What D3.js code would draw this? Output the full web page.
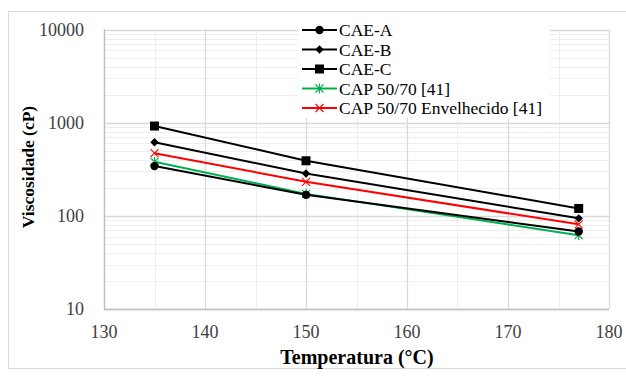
<!DOCTYPE html>
<html>
<head>
<meta charset="utf-8">
<script src="https://cdn.jsdelivr.net/npm/d3@7"></script>
<style>
  body { margin: 0; background: #fff; }
</style>
</head>
<body>
<div id="chart"></div>
<script>
// temperatures (°C)
let temps = [135, 150, 177];
// viscosities (cP)
let caeA = [342, 168, 68];
let caeB = [616, 285, 94];
let caeC = [920, 390, 120];
let cap = [380, 172, 62];
let capEnv = [470, 232, 81];

let seriesNames = ["CAE-A", "CAE-B", "CAE-C", "CAP 50/70 [41]", "CAP 50/70 Envelhecido [41]"];
let xTicks = [130, 140, 150, 160, 170, 180];
let yTicks = [10, 100, 1000, 10000];

let width = 626, height = 376;
let margin = {left: 104, right: 17, top: 29.5, bottom: 67};
let serif = "Liberation Serif";

let svg = d3.select("#chart").append("svg")
    .attr("width", width)
    .attr("height", height);

// outer frame
svg.append("rect")
    .attr("x", 8.5).attr("y", 11.5)
    .attr("width", 640).attr("height", 357)
    .attr("fill", "none")
    .attr("stroke", "#d9d9d9");

let x = d3.scaleLinear().domain([130, 180]).range([margin.left, width - margin.right]);
let y = d3.scaleLog().domain([10, 10000]).range([height - margin.bottom, margin.top]);

// minor gridlines
let minorX = d3.range(135, 180, 10);
let minorY = [];
yTicks.slice(0, -1).forEach((d) => {
    for (let k = 2; k < 10; k++) minorY.push(d * k);
});

svg.append("g").selectAll("line")
    .data(minorY)
    .enter().append("line")
    .attr("x1", x(130)).attr("x2", x(180))
    .attr("y1", (d) => Math.round(y(d)) + 0.5)
    .attr("y2", (d) => Math.round(y(d)) + 0.5)
    .attr("stroke", "#eeeeee");

svg.append("g").selectAll("line")
    .data(minorX)
    .enter().append("line")
    .attr("x1", (d) => Math.round(x(d)) + 0.5)
    .attr("x2", (d) => Math.round(x(d)) + 0.5)
    .attr("y1", y(10)).attr("y2", y(10000))
    .attr("stroke", "#eeeeee");

// major gridlines
svg.append("g").selectAll("line")
    .data(yTicks)
    .enter().append("line")
    .attr("x1", x(130)).attr("x2", x(180))
    .attr("y1", (d) => Math.round(y(d)) + 0.5)
    .attr("y2", (d) => Math.round(y(d)) + 0.5)
    .attr("stroke", "#d9d9d9")
    .attr("stroke-width", 1.3);

svg.append("g").selectAll("line")
    .data(xTicks)
    .enter().append("line")
    .attr("x1", (d) => Math.round(x(d)) + 0.5)
    .attr("x2", (d) => Math.round(x(d)) + 0.5)
    .attr("y1", y(10)).attr("y2", y(10000))
    .attr("stroke", "#d9d9d9")
    .attr("stroke-width", 1.3);

// axis lines
svg.append("line")
    .attr("x1", x(130)).attr("x2", x(180))
    .attr("y1", Math.round(y(10)) + 0.5).attr("y2", Math.round(y(10)) + 0.5)
    .attr("stroke", "#bfbfbf").attr("stroke-width", 1.3);
svg.append("line")
    .attr("x1", Math.round(x(130)) + 0.5).attr("x2", Math.round(x(130)) + 0.5)
    .attr("y1", y(10)).attr("y2", y(10000))
    .attr("stroke", "#bfbfbf").attr("stroke-width", 1.3);

// tick labels
svg.append("g").selectAll("text")
    .data(xTicks)
    .enter().append("text")
    .attr("x", (d) => x(d))
    .attr("y", y(10) + 29)
    .attr("text-anchor", "middle")
    .attr("font-family", serif)
    .attr("font-size", 18)
    .attr("fill", "#404040")
    .text((d) => d);

svg.append("g").selectAll("text")
    .data(yTicks)
    .enter().append("text")
    .attr("x", 84)
    .attr("y", (d) => y(d) + 6)
    .attr("text-anchor", "end")
    .attr("font-family", serif)
    .attr("font-size", 18)
    .attr("fill", "#404040")
    .text((d) => d);

// axis titles
svg.append("text")
    .attr("x", 357)
    .attr("y", 364)
    .attr("text-anchor", "middle")
    .attr("font-family", serif)
    .attr("font-size", 20)
    .attr("font-weight", "bold")
    .text("Temperatura (°C)");

svg.append("text")
    .attr("transform", "translate(34," + 167 + ") rotate(-90)")
    .attr("text-anchor", "middle")
    .attr("font-family", serif)
    .attr("font-size", 17.5)
    .attr("font-weight", "bold")
    .text("Viscosidade (cP)");

// marker drawers
let markers = {
    circle: (g, c) => g.append("circle").attr("r", 4.2).attr("fill", c),
    diamond: (g, c) => g.append("path").attr("d", "M0,-4.2L4.2,0L0,4.2L-4.2,0Z").attr("fill", c),
    square: (g, c) => g.append("rect").attr("x", -4.5).attr("y", -4.5).attr("width", 9).attr("height", 9).attr("fill", c),
    star: (g, c) => g.append("path").attr("d", "M-4,-4L4,4M-4,4L4,-4M0,-5V5").attr("stroke", c).attr("stroke-width", 1.1).attr("fill", "none"),
    cross: (g, c) => g.append("path").attr("d", "M-4,-4L4,4M-4,4L4,-4").attr("stroke", c).attr("stroke-width", 1.1).attr("fill", "none")
};

let series = [
    {name: seriesNames[0], values: caeA, color: "#000000", marker: "circle"},
    {name: seriesNames[1], values: caeB, color: "#000000", marker: "diamond"},
    {name: seriesNames[2], values: caeC, color: "#000000", marker: "square"},
    {name: seriesNames[3], values: cap, color: "#00b050", marker: "star"},
    {name: seriesNames[4], values: capEnv, color: "#ff0000", marker: "cross"}
];

let line = d3.line()
    .x((d) => x(d[0]))
    .y((d) => y(d[1]));

// legend box (white, covers the grid)
let legend = svg.append("g");
legend.append("rect")
    .attr("x", 298).attr("y", 19)
    .attr("width", 252).attr("height", 99)
    .attr("fill", "#fff");

// draw order: green, red, then black series
[3, 4, 0, 1, 2].forEach((i) => {
    let s = series[i];
    let pts = temps.map((t, j) => [t, s.values[j]]);
    svg.append("path")
        .datum(pts)
        .attr("d", line)
        .attr("fill", "none")
        .attr("stroke", s.color)
        .attr("stroke-width", 2);
    pts.forEach((p) => {
        let g = svg.append("g").attr("transform", "translate(" + x(p[0]) + "," + y(p[1]) + ")");
        markers[s.marker](g, s.color);
    });
});

series.forEach((s, i) => {
    let ly = 30 + i * 19.5;
    legend.append("line")
        .attr("x1", 302).attr("x2", 337)
        .attr("y1", ly).attr("y2", ly)
        .attr("stroke", s.color)
        .attr("stroke-width", 2);
    let g = legend.append("g").attr("transform", "translate(319.5," + ly + ")");
    markers[s.marker](g, s.color);
    legend.append("text")
        .attr("x", 339)
        .attr("y", ly + 6)
        .attr("font-family", serif)
        .attr("font-size", 17.5)
        .attr("fill", "#000")
        .text(s.name);
});
</script>
</body>
</html>
